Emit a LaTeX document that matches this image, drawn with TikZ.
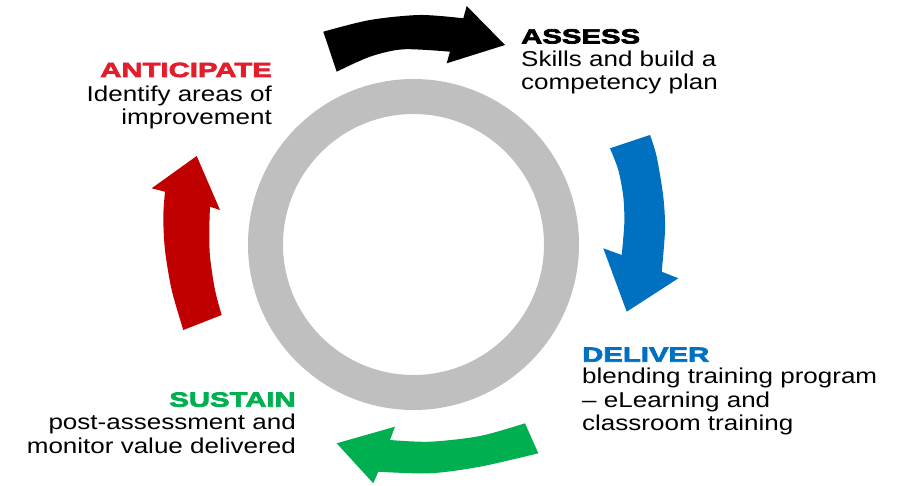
\documentclass[tikz,border=0pt]{standalone}
\usepackage{fontspec}
\setmainfont{Liberation Sans}
\newfontfamily\bodyfont[FakeStretch=1.21]{Liberation Sans}
\newfontfamily\headfont[FakeStretch=1.43,FakeBold=3.5]{Liberation Sans Bold}
\definecolor{ringgray}{HTML}{BFBFBF}
\definecolor{arrred}{HTML}{C00000}
\definecolor{headred}{HTML}{E21E2D}
\definecolor{arrblue}{HTML}{0070C0}
\definecolor{arrgreen}{HTML}{00B050}
\tikzset{
  headtxt/.style={inner sep=0pt, font=\headfont\fontsize{20.5}{23.3}\selectfont},
  bodytxt/.style={inner sep=0pt, font=\bodyfont\fontsize{21.5}{23.3}\selectfont},
}
\begin{document}
\begin{tikzpicture}[x=1pt,y=-1pt]
\useasboundingbox (0,0) rectangle (907,486);
% ring
\draw[ringgray, line width=35pt] (413.5,244.5) circle[radius=148pt];
% black arrow (top)
\fill[black] plot[smooth] coordinates {(323.3,31.7) (370,20) (420,15) (463.3,18.3)}
  -- (466.7,6) -- (505,45) -- (446.7,63.3) -- (450,51.7)
  -- plot[smooth] coordinates {(450,51.7) (403.3,49.3) (370,56.7) (336.7,71.7)} -- cycle;
% blue arrow (right)
\fill[arrblue] (610,148.3) -- plot[smooth] coordinates {(650,135) (656.7,156.7) (663.3,196.7) (665,230) (661.7,271.7)}
  -- (678.3,278.3) -- (626.7,311.7) -- (603.3,248.3) -- (621.7,255)
  -- plot[smooth] coordinates {(621.7,255) (624.3,223.3) (623.3,196.7) (618.3,170) (610,148.3)} -- cycle;
% green arrow (bottom)
\fill[arrgreen] (525,423.3) -- plot[smooth] coordinates {(538.3,453.3) (480,466.7) (430,473.3) (378.3,471.7)}
  -- (373.3,483.3) -- (336.7,443.3) -- (395,426.7) -- (390,440)
  -- plot[smooth] coordinates {(390,440) (430,441.7) (480,436) (525,423.3)} -- cycle;
% red arrow (left)
\fill[arrred] (183.3,330) -- plot[smooth] coordinates {(221.7,315) (215,290) (210,256.7) (209.3,230) (210,206.7)}
  -- (220,210) -- (196.7,156) -- (151.7,188.3) -- (165,191.7)
  -- plot[smooth] coordinates {(165,191.7) (163.3,216.7) (165,250) (171.7,290) (183.3,330)} -- cycle;
% texts (base anchor of a multi-line node = baseline of its last line)
\node[headtxt, anchor=base west] (assessH) at (521,43.5) {ASSESS};
\node[bodytxt, anchor=base west, align=left] (assessB) at (521,90) {Skills and build a\\competency plan};
\node[headtxt, anchor=base east, text=headred] (anticH) at (272,77) {ANTICIPATE};
\node[bodytxt, anchor=base east, align=right] (anticB) at (272,125) {Identify areas of\\improvement};
\node[headtxt, anchor=base west, text=arrblue] (delivH) at (582,361.7) {DELIVER};
\node[bodytxt, anchor=base west, align=left] (delivB) at (582,430.5) {blending training program\\– eLearning and\\classroom training};
\node[headtxt, anchor=base east, text=arrgreen] (sustH) at (296,406.7) {SUSTAIN};
\node[bodytxt, anchor=base east, align=right] (sustB) at (296,453) {post-assessment and\\monitor value delivered};
\end{tikzpicture}
\end{document}
